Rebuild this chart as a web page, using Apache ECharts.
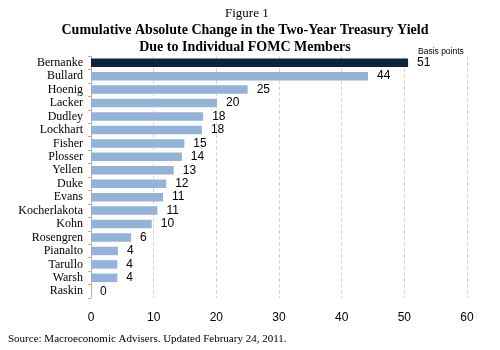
<!DOCTYPE html>
<html>
<head>
<meta charset="utf-8">
<script src="https://cdn.jsdelivr.net/npm/echarts@6/dist/echarts.min.js"></script>
<style>
html,body{margin:0;padding:0;background:#fff;}
#chart{width:500px;height:350px;}
</style>
</head>
<body>
<div id="chart"></div>
<script>
var members = ["Bernanke","Bullard","Hoenig","Lacker","Dudley","Lockhart","Fisher","Plosser","Yellen","Duke","Evans","Kocherlakota","Kohn","Rosengren","Pianalto","Tarullo","Warsh","Raskin"];
var changes = [50.6, 44.2, 25.0, 20.1, 17.9, 17.7, 14.9, 14.5, 13.2, 12.0, 11.5, 10.6, 9.7, 6.4, 4.3, 4.2, 4.2, 0];
var valueLabels = ["51","44","25","20","18","18","15","14","13","12","11","11","10","6","4","4","4","0"];
var xTicks = [0, 10, 20, 30, 40, 50, 60];

var chart = echarts.init(document.getElementById('chart'), null, {renderer: 'canvas'});
var serif = '"Liberation Serif", "DejaVu Serif", serif';
var sans = '"Liberation Sans", Arial, sans-serif';

chart.setOption({
  animation: false,
  backgroundColor: '#fff',
  title: [
    {text: 'Figure 1', left: 225, top: 7, padding: 0, textStyle: {fontFamily: serif, fontWeight: 'normal', fontSize: 13, color: '#000'}},
    {text: 'Cumulative Absolute Change in the Two-Year Treasury Yield\nDue to Individual FOMC Members', left: 245, textAlign: 'center', top: 22, padding: 0,
     textStyle: {fontFamily: serif, fontWeight: 'bold', fontSize: 14, color: '#000', lineHeight: 17, align: 'center'}},
    {text: 'Basis points', left: 418, top: 47, padding: 0, textStyle: {fontFamily: sans, fontWeight: 'normal', fontSize: 8.5, color: '#000'}},
    {text: 'Source: Macroeconomic Advisers. Updated February 24, 2011.', left: 8, top: 334, padding: 0,
     textStyle: {fontFamily: serif, fontWeight: 'normal', fontSize: 11, color: '#000'}}
  ],
  grid: {left: 91, right: 33, top: 56, bottom: 52, containLabel: false},
  xAxis: {
    type: 'value', min: xTicks[0], max: xTicks[xTicks.length - 1], interval: 10,
    axisLine: {show: false}, axisTick: {show: false},
    axisLabel: {fontFamily: sans, fontSize: 12, color: '#000', margin: 14},
    splitLine: {show: true, lineStyle: {type: 'dashed', color: '#d8d8d8', width: 1}}
  },
  yAxis: {
    type: 'category', data: members, inverse: true,
    axisLine: {show: true, lineStyle: {color: '#b0b0b0'}},
    axisTick: {show: true, length: 3, interval: 0, lineStyle: {color: '#b0b0b0'}},
    axisLabel: {fontFamily: serif, fontSize: 12, color: '#000', margin: 8, interval: 0}
  },
  series: [{
    type: 'bar',
    data: changes.map(function (v, i) {
      return {value: v, itemStyle: {color: i === 0 ? '#0f2341' : '#95b3d7'}};
    }),
    barWidth: 8.5,
    label: {
      show: true, position: 'right', distance: 9,
      fontFamily: sans, fontSize: 12, color: '#000',
      formatter: function (p) { return valueLabels[p.dataIndex]; }
    }
  }]
});
</script>
</body>
</html>
